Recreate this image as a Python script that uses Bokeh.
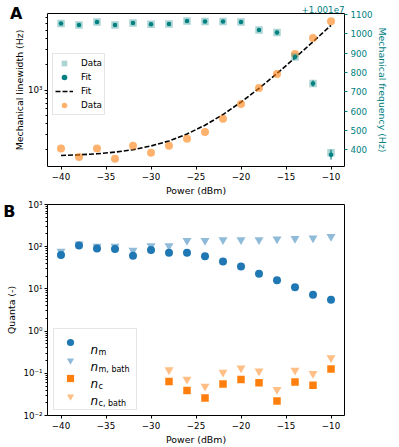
import math
from bokeh.plotting import figure
from bokeh.models import (Range1d, LinearAxis, LogAxis, LinearScale, FixedTicker, Label,
                          Legend, LegendItem, Title)
from bokeh.layouts import column
from bokeh.embed import file_html
from bokeh.resources import INLINE

# ---------------- data: panel A ----------------
power = [-40, -38, -36, -34, -32, -30, -28, -26, -24, -22, -20, -18, -16, -14, -12, -10]
linewidth_data = [207, 164, 207, 157, 223, 184, 223, 268, 323, 460, 685, 1054, 1540, 2640, 4065, 6380]
linewidth_fit = [171, 174, 179, 187, 200, 221, 253, 305, 387, 516, 721, 1047, 1563, 2380, 3676, 5730]
# mechanical frequency, relative to the offset 1.001e7 Hz
freq_data = [1053, 1046, 1061, 1046, 1056, 1049, 1051, 1066, 1064, 1064, 1061, 1020, 1007, 880, 743, 385]
freq_fit = [1053, 1046, 1061, 1046, 1056, 1049, 1051, 1066, 1064, 1064, 1061, 1020, 1007, 880, 743, 375]
freq_fit_err = [8, 8, 8, 8, 8, 8, 8, 8, 8, 8, 8, 10, 10, 12, 16, 25]
freq_offset_text = "+1.001e7"

# ---------------- data: panel B ----------------
n_m = [64, 107, 91, 88, 61, 84, 72, 72, 59, 44.5, 34, 23, 16, 11, 7.3, 5.5]
n_m_bath = [78, 116, 102, 102, 82, 105, 105, 140, 140, 146, 146, 146, 152, 155, 160, 174]
power_c = [-28, -26, -24, -22, -20, -18, -16, -14, -12, -10]
n_c = [0.064, 0.039, 0.026, 0.056, 0.071, 0.060, 0.022, 0.062, 0.052, 0.126]
n_c_bath = [0.12, 0.072, 0.049, 0.105, 0.133, 0.113, 0.041, 0.117, 0.098, 0.233]

# ---------------- axes / ticks ----------------
x_lo, x_hi = -41.5, -8.5
lw_lo, lw_hi = 127, 7880
fq_lo, fq_hi = 313.7, 1105
q_lo, q_hi = 0.01, 1000
x_ticks = [-40, -35, -30, -25, -20, -15, -10]
x_tick_labels = ["\u221240", "\u221235", "\u221230", "\u221225", "\u221220", "\u221215", "\u221210"]
freq_ticks = [400, 500, 600, 700, 800, 900, 1000, 1100]
lw_ticks = [1000]
lw_tick_labels = ["10\u00b3"]
lw_minor = [200, 300, 400, 500, 600, 700, 800, 900, 2000, 3000, 4000, 5000, 6000, 7000]
quanta_ticks = [0.01, 0.1, 1, 10, 100, 1000]
quanta_tick_labels = ["10\u207b\u00b2", "10\u207b\u00b9", "10\u2070", "10\u00b9", "10\u00b2", "10\u00b3"]
quanta_minor = [k * 10.0 ** e for e in range(-2, 3) for k in range(2, 10)]

FONT = "DejaVu Sans"
TEAL = "#008080"
ORANGE = "#ff7f0e"
BLUE = "#1f77b4"
TICK_FS = "8.7px"
LABEL_FS = "9.4px"


def style_axis(ax, color="black", minor=True, label=None, label_standoff=2, tick_standoff=3):
    ax.axis_line_color = None
    ax.major_tick_line_color = color
    ax.major_tick_out = 3
    ax.major_tick_in = 0
    ax.minor_tick_line_color = color if minor else None
    ax.minor_tick_out = 2
    ax.minor_tick_in = 0
    ax.major_label_text_font = FONT
    ax.major_label_text_font_size = TICK_FS
    ax.major_label_text_color = color
    ax.major_label_standoff = tick_standoff
    if label is not None:
        ax.axis_label = label
        ax.axis_label_text_font = FONT
        ax.axis_label_text_font_size = LABEL_FS
        ax.axis_label_text_font_style = "normal"
        ax.axis_label_text_color = color
        ax.axis_label_standoff = label_standoff


def panel_letter_axis(p, tick_value, letter, baseline="middle"):
    """An extra, line-less left axis whose single tick label is the panel letter."""
    ax = LogAxis(ticker=FixedTicker(ticks=[tick_value], minor_ticks=[]))
    ax.major_label_overrides = {tick_value: letter}
    ax.axis_line_color = None
    ax.major_tick_line_color = None
    ax.minor_tick_line_color = None
    ax.major_tick_out = 0
    ax.major_tick_in = 0
    ax.major_label_text_font = FONT
    ax.major_label_text_font_size = "16px"
    ax.major_label_text_font_style = "bold"
    ax.major_label_text_color = "black"
    ax.major_label_text_baseline = baseline
    ax.major_label_standoff = -12
    p.add_layout(ax, "left")


def base_style(p):
    p.outline_line_color = "black"
    p.outline_line_alpha = 1
    p.outline_line_width = 1
    p.xgrid.visible = False
    p.ygrid.visible = False
    p.background_fill_color = "white"
    p.border_fill_color = "white"


# ================= panel A =================
pA = figure(width=390, height=198, x_range=Range1d(x_lo, x_hi),
            y_range=Range1d(lw_lo, lw_hi), y_axis_type="log",
            output_backend="svg", toolbar_location=None,
            min_border_left=29, min_border_right=40, min_border_top=13,
            min_border_bottom=29)
base_style(pA)
pA.extra_y_ranges = {"freq": Range1d(fq_lo, fq_hi)}
pA.extra_y_scales = {"freq": LinearScale()}

pA.xaxis.ticker = FixedTicker(ticks=x_ticks, minor_ticks=[])
pA.xaxis.major_label_overrides = dict(zip(x_ticks, x_tick_labels))
style_axis(pA.xaxis[0], minor=False, label="Power (dBm)", label_standoff=2)
pA.yaxis.ticker = FixedTicker(ticks=lw_ticks, minor_ticks=lw_minor)
pA.yaxis.major_label_overrides = dict(zip(lw_ticks, lw_tick_labels))
style_axis(pA.yaxis[0], label="Mechanical linewidth (Hz)", label_standoff=0, tick_standoff=2)
panel_letter_axis(pA, lw_hi, "A", baseline="alphabetic")

ax_r = LinearAxis(y_range_name="freq", ticker=FixedTicker(ticks=freq_ticks, minor_ticks=[]))
style_axis(ax_r, color=TEAL, minor=False, label="Mechanical frequency (Hz)",
           label_standoff=1, tick_standoff=3)
pA.add_layout(ax_r, "right")

pA.add_layout(Title(text=freq_offset_text, align="right", vertical_align="bottom",
                    standoff=1, offset=0, text_font=FONT, text_font_size=TICK_FS,
                    text_font_style="normal", text_color=TEAL), "above")

r_fit = pA.line(power, linewidth_fit, line_color="black", line_width=1.6, line_dash="5 2")
r_lw = pA.scatter(power, linewidth_data, marker="circle", size=8,
                  fill_color=ORANGE, fill_alpha=0.6, line_color=None)
r_lw_err = pA.scatter([], [], marker="dash", angle=math.pi / 2, size=8,
                      line_color=ORANGE, line_alpha=0.6, line_width=1.3)
r_fd = pA.scatter(power, freq_data, y_range_name="freq", marker="square", size=7.5,
                  fill_color=TEAL, fill_alpha=0.33, line_color=None)
fit_lo = [v - e for v, e in zip(freq_fit, freq_fit_err)]
fit_hi = [v + e for v, e in zip(freq_fit, freq_fit_err)]
pA.segment(x0=power, y0=fit_lo, x1=power, y1=fit_hi, y_range_name="freq",
           line_color=TEAL, line_width=1.2)
r_ff_err = pA.scatter([], [], y_range_name="freq", marker="dash",
                      angle=math.pi / 2, size=8, line_color=TEAL, line_width=1.2)
r_ff = pA.scatter(power, freq_fit, y_range_name="freq", marker="circle", size=4.5,
                  fill_color=TEAL, line_color=None)

legA = Legend(items=[LegendItem(label="Data", renderers=[r_fd]),
                     LegendItem(label="Fit", renderers=[r_ff_err, r_ff]),
                     LegendItem(label="Fit", renderers=[r_fit]),
                     LegendItem(label="Data", renderers=[r_lw, r_lw_err])],
              location=(5, 51))
legA.label_text_font = FONT
legA.label_text_font_size = "8.8px"
legA.label_text_color = "black"
legA.glyph_width = 18
legA.glyph_height = 14
legA.label_height = 14
legA.spacing = -1
legA.padding = 2
legA.label_standoff = 8
legA.margin = 0
legA.border_line_color = "#cccccc"
legA.border_line_width = 1
legA.background_fill_alpha = 0.8
pA.add_layout(legA)

# ================= panel B =================
pB = figure(width=390, height=249, x_range=Range1d(x_lo, x_hi),
            y_range=Range1d(q_lo, q_hi), y_axis_type="log",
            output_backend="svg", toolbar_location=None,
            min_border_left=39, min_border_right=1, min_border_top=6,
            min_border_bottom=29)
base_style(pB)
pB.xaxis.ticker = FixedTicker(ticks=x_ticks, minor_ticks=[])
pB.xaxis.major_label_overrides = dict(zip(x_ticks, x_tick_labels))
style_axis(pB.xaxis[0], minor=False, label="Power (dBm)", label_standoff=2)
pB.yaxis.ticker = FixedTicker(ticks=quanta_ticks, minor_ticks=quanta_minor)
pB.yaxis.major_label_overrides = dict(zip(quanta_ticks, quanta_tick_labels))
style_axis(pB.yaxis[0], label="Quanta (-)", label_standoff=3, tick_standoff=2)
panel_letter_axis(pB, q_hi, "B")

r_mb = pB.scatter(power, n_m_bath, marker="inverted_triangle", size=9,
                  fill_color=BLUE, fill_alpha=0.5, line_color=None)
r_mb_err = pB.scatter([], [], marker="dash", angle=math.pi / 2, size=8,
                      line_color=BLUE, line_alpha=0.5, line_width=1.3)
r_m = pB.scatter(power, n_m, marker="circle", size=8, fill_color=BLUE, line_color=None)
r_cb = pB.scatter(power_c, n_c_bath, marker="inverted_triangle", size=9,
                  fill_color=ORANGE, fill_alpha=0.5, line_color=None)
r_cb_err = pB.scatter([], [], marker="dash", angle=math.pi / 2, size=8,
                      line_color=ORANGE, line_alpha=0.5, line_width=1.3)
r_c = pB.scatter(power_c, n_c, marker="square", size=7.5, fill_color=ORANGE, line_color=None)

legB = Legend(items=[LegendItem(label=" ", renderers=[r_m]),
                     LegendItem(label=" ", renderers=[r_mb, r_mb_err]),
                     LegendItem(label=" ", renderers=[r_c]),
                     LegendItem(label=" ", renderers=[r_cb, r_cb_err])],
              location=(6, 5))
legB.label_text_font = FONT
legB.label_text_font_size = "10px"
legB.glyph_width = 24
legB.glyph_height = 18
legB.label_height = 18
legB.label_width = 41
legB.spacing = -1
legB.padding = 4
legB.label_standoff = 9
legB.margin = 0
legB.border_line_color = "#cccccc"
legB.border_line_width = 1
legB.background_fill_alpha = 0.0
pB.add_layout(legB)

subs = ["m", "m, bath", "c", "c, bath"]
n_base = [65.6, 48.6, 31.6, 14.6]
for s, yb in zip(subs, n_base):
    pB.add_layout(Label(x=43, y=yb, x_units="screen", y_units="screen", text="n",
                        text_font=FONT, text_font_size="12px", text_font_style="italic",
                        text_color="black", text_baseline="alphabetic", level="overlay"))
    pB.add_layout(Label(x=51, y=yb - 2.7, x_units="screen", y_units="screen", text=s,
                        text_font=FONT, text_font_size="8px", text_color="black",
                        text_baseline="alphabetic", level="overlay"))

layout = column(pA, pB)
open("out.html", "w").write(file_html(layout, INLINE))
